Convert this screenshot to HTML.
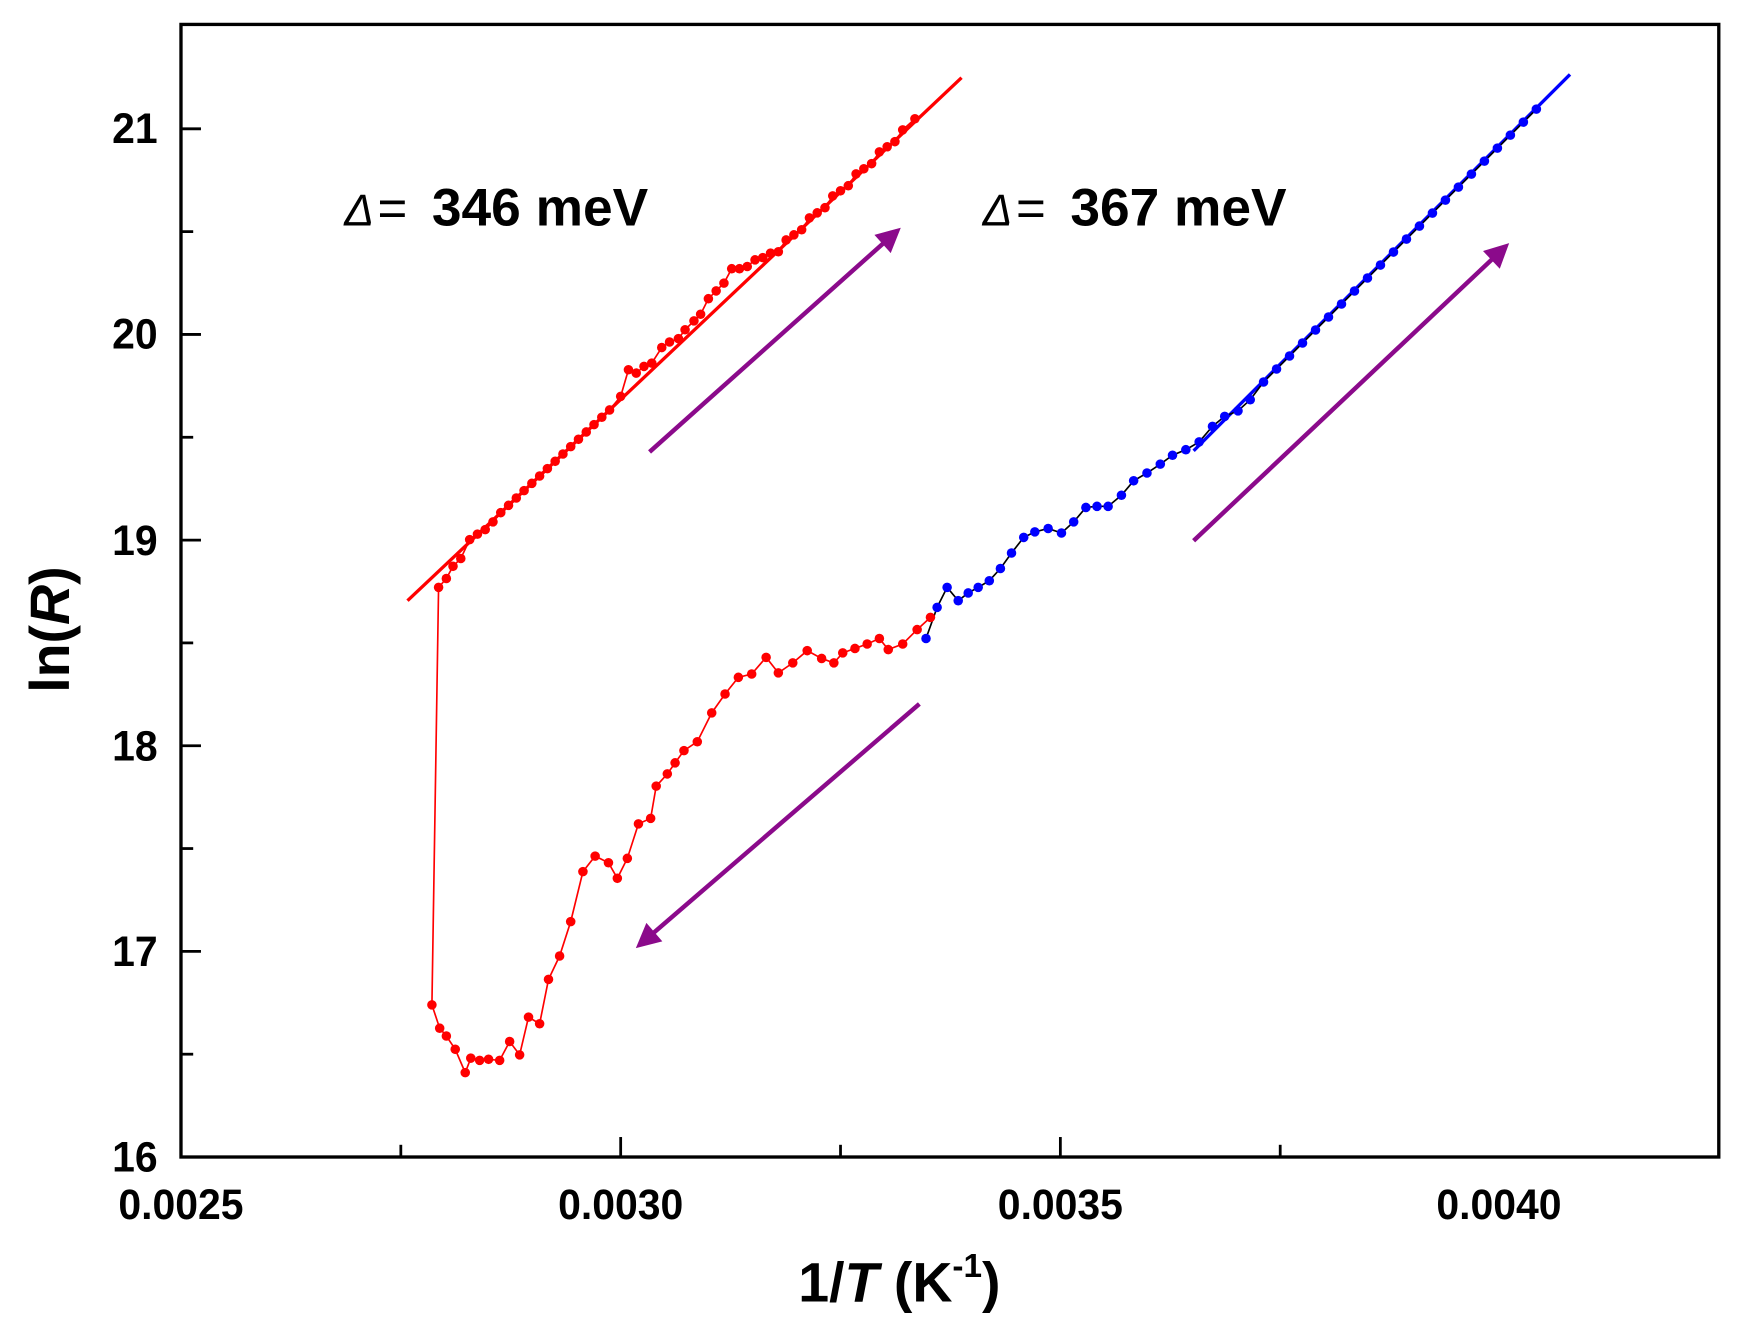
<!DOCTYPE html>
<html><head><meta charset="utf-8"><style>
html,body{margin:0;padding:0;background:#fff;}
svg{display:block;}
text{font-family:"Liberation Sans",sans-serif;}
</style></head><body>
<svg id="s" width="1741" height="1338" viewBox="0 0 1568 1205" preserveAspectRatio="none" xmlns="http://www.w3.org/2000/svg">
<defs>
<marker id="ah2" viewBox="0 0 10 10" refX="8" refY="5" markerWidth="30" markerHeight="22" orient="auto" markerUnits="userSpaceOnUse"><path d="M0,0 L10,5 L0,10 z" fill="#8B0A8B"/></marker>
</defs>
<rect x="163" y="22" width="1385" height="1020" fill="none" stroke="#000" stroke-width="3"/>
<g id="ticks" stroke="#000" stroke-width="2.5"></g>
<g font-weight="bold" font-size="38" fill="#000">
<text transform="translate(163,1098) scale(0.97,1)" text-anchor="middle">0.0025</text>
<text transform="translate(559,1098) scale(0.97,1)" text-anchor="middle">0.0030</text>
<text transform="translate(955,1098) scale(0.97,1)" text-anchor="middle">0.0035</text>
<text transform="translate(1350,1098) scale(0.97,1)" text-anchor="middle">0.0040</text>
<text transform="translate(142,1055) scale(0.97,1)" text-anchor="end">16</text>
<text transform="translate(142,870) scale(0.97,1)" text-anchor="end">17</text>
<text transform="translate(142,685) scale(0.97,1)" text-anchor="end">18</text>
<text transform="translate(142,500) scale(0.97,1)" text-anchor="end">19</text>
<text transform="translate(142,314) scale(0.97,1)" text-anchor="end">20</text>
<text transform="translate(142,129) scale(0.97,1)" text-anchor="end">21</text>
<text transform="translate(810,1172)" text-anchor="middle" font-size="50">1/<tspan font-style="italic">T</tspan> (K<tspan font-size="30" dy="-22">-1</tspan><tspan dy="22">)</tspan></text>
<text transform="translate(62,567) rotate(-90)" text-anchor="middle" font-size="50">ln(<tspan font-style="italic">R</tspan>)</text>
</g>
<text x="310" y="203" font-size="40" font-family="Liberation Serif,serif" font-style="italic">Δ</text>
<text x="340" y="203" font-size="46" font-family="Liberation Serif,serif">=</text>
<text x="389" y="203" font-size="48" font-weight="bold">346 meV</text>
<text x="885" y="203" font-size="40" font-family="Liberation Serif,serif" font-style="italic">Δ</text>
<text x="915" y="203" font-size="46" font-family="Liberation Serif,serif">=</text>
<text x="964" y="203" font-size="48" font-weight="bold">367 meV</text>
<line x1="367" y1="541" x2="866" y2="70" stroke="#f00" stroke-width="3"/>
<line x1="1075" y1="406" x2="1414" y2="67" stroke="#00f" stroke-width="3"/>
<g stroke="#8B0A8B" stroke-width="4" marker-end="url(#ah2)">
<line x1="585" y1="407" x2="808" y2="208"/>
<line x1="1075" y1="487" x2="1356" y2="222"/>
<line x1="828" y1="634" x2="576" y2="851"/>
</g>
<g id="data"></g>
</svg>
<script>
var NS="http://www.w3.org/2000/svg";
function el(p,t,a){var e=document.createElementNS(NS,t);for(var k in a)e.setAttribute(k,a[k]);p.appendChild(e);return e;}
var tk=document.getElementById("ticks");
for(var i=0;i<=10;i++){var y=1042-i*92.6;var L=(i%2==0)?18:11;el(tk,"line",{x1:163,y1:y,x2:163+L,y2:y});}
for(var i=1;i<=5;i++){var x=163+i*198;var L=(i%2==0)?18:11;el(tk,"line",{x1:x,y1:1042,x2:x,y2:1042-L});}
var lower=[[838,556],[826,567],[813,580],[800,585],[792,575],[781,580],[770,584],[759,588],[751,597],[740,593],[727,586],[714,597],[701,606],[690,592],[677,607],[665,610],[653,625],[641,642],[628,668],[616,676],[608,687],[601,697],[591,708],[586,737],[575,742],[565,773],[556,791],[548,777],[536,771],[525,785],[514,830],[504,861],[494,882],[486,922],[476,916],[468,950],[459,938],[450,955],[440,954],[432,955],[424,953],[419,966],[410,945],[402,933],[396,926],[389,905]];
var upper=[[395,529],[402,521],[408,510],[415,503],[423,486],[430,481],[437,477],[444,470]];
function ly(x){return 541-0.944*(x-367);}
for(var x=451;x<=552;x+=7)upper.push([x,ly(x)]);
upper=upper.concat([[559,357],[566,333],[573,336],[580,330],[587,327],[596,313],[603,308],[611,305],[617,297],[625,289],[631,283],[638,269],[645,262],[652,255],[659,242],[666,242],[673,240],[680,234],[687,232],[694,228]]);
for(var x=701;x<=817;x+=7)upper.push([x,ly(x)-1+((x%3)-1)*2]);
upper.push([824,107]);
var red=lower.concat(upper);
var blue=[[834,575],[844,547],[853,529],[863,541],[872,534],[881,529],[891,523],[901,512],[911,498],[922,484],[932,479],[944,476],[956,480],[967,470],[978,457],[988,456],[998,456],[1010,446],[1021,433],[1033,426],[1045,418],[1056,410],[1068,405],[1080,398],[1092,384],[1103,375],[1115,370],[1126,360]];
for(var x=1138;x<=1385;x+=11.7)blue.push([x,406-(x-1075)+1]);
var g=document.getElementById("data");
function pl(p,c){el(g,"polyline",{points:p.map(function(q){return q.join(",")}).join(" "),fill:"none",stroke:c,"stroke-width":1.5});}
pl(blue,"#000");pl(red,"#f00");
red.forEach(function(q){el(g,"circle",{cx:q[0],cy:q[1],r:4.3,fill:"#f00"});});
blue.forEach(function(q){el(g,"circle",{cx:q[0],cy:q[1],r:4.3,fill:"#00f"});});
</script>
</body></html>
